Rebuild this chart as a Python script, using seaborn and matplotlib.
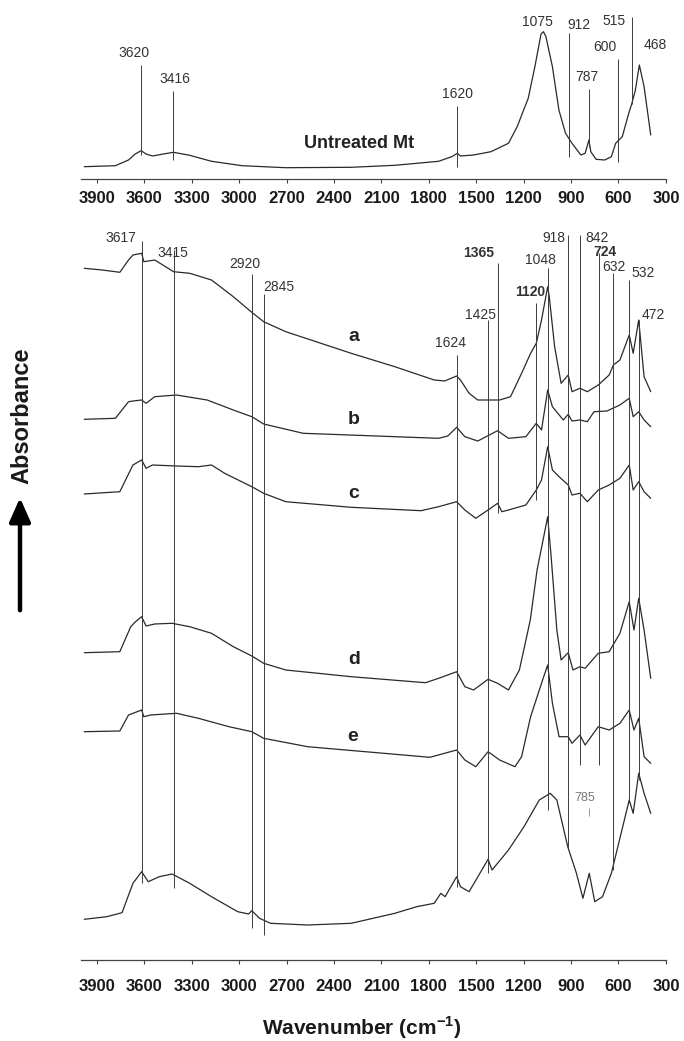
import matplotlib
matplotlib.use("Agg")
import matplotlib.pyplot as plt
import seaborn as sns

sns.set_theme(style="white")
plt.rcParams['font.family'] = ['Liberation Sans', 'DejaVu Sans']
plt.rcParams['mathtext.fontset'] = 'custom'
plt.rcParams['mathtext.rm'] = 'Liberation Sans'
plt.rcParams['mathtext.bf'] = 'Liberation Sans:bold'

# ---------------- data ----------------
tick_values = [3900, 3600, 3300, 3000, 2700, 2400, 2100, 1800, 1500, 1200, 900, 600, 300]
tick_labels = [str(v) for v in tick_values]

# Untreated montmorillonite
mt_wn = [3980, 3783, 3700, 3658, 3620, 3589, 3548, 3479, 3416, 3313, 3175, 2981, 2705, 2291,
         2015, 1738, 1655, 1620, 1600, 1517, 1407, 1296, 1241, 1200, 1171, 1129, 1090, 1075,
         1059, 1018, 977, 935, 894, 838, 811, 787, 775, 742, 687, 645, 618, 576, 535, 515,
         493, 468, 438, 396]
mt_abs = [12.3, 13.3, 19, 25, 28.3, 25, 23, 25, 26.7, 23.7, 17.7, 13.3, 11.3, 11.7,
          13.7, 17.7, 22.3, 25.7, 23, 24, 27.3, 35.7, 52.3, 69, 80.7, 112.3, 145, 147.3,
          142.3, 112.3, 69, 45.7, 35.7, 24, 25.7, 39, 27.3, 19.7, 19, 22.3, 35.7, 42.3, 65.7, 75.7,
          89, 114, 92.3, 44]

a_wn = [3980, 3866, 3755, 3700, 3672, 3617, 3603, 3575, 3534, 3415, 3313, 3175, 3037, 2920,
        2845, 2705, 2291, 2015, 1766, 1700, 1624, 1600, 1545, 1490, 1352, 1283, 1213, 1156,
        1120, 1087, 1048, 1038, 1004, 963, 918, 894, 844, 797, 728, 659, 632, 591, 532, 507,
        472, 438, 396]
a_abs = [691.7, 690, 687.7, 700, 705, 706.7, 698.3, 699, 700, 688.3, 686.7, 680, 663.3, 647.7,
         638.3, 628.3, 606.7, 593.3, 580, 579, 584, 580, 566.7, 560, 560, 563.3, 586.7, 606.7,
         616.7, 640, 673.3, 663.3, 613.3, 576.7, 585, 568.3, 571.7, 568.3, 575, 585, 595, 600, 625, 606.7,
         640, 583.3, 568.3]

b_wn = [3980, 3783, 3700, 3672, 3617, 3589, 3534, 3396, 3203, 3037, 2920, 2845, 2595, 1738,
        1680, 1624, 1572, 1490, 1365, 1296, 1186, 1120, 1087, 1048, 1018, 949, 918, 894, 844,
        797, 755, 673, 591, 532, 507, 472, 438, 396]
b_abs = [540.7, 541.7, 558.3, 559, 560, 556.7, 563.3, 565, 560, 550, 543.3, 536, 526.7, 521.7,
         524, 532.7, 523.3, 519, 529.3, 521.7, 523.3, 536.7, 530, 570, 553.3, 540, 545.7, 539, 540,
         538.3, 548.3, 549, 555, 561.7, 543.3, 548.3, 540, 533.3]

c_wn = [3980, 3755, 3672, 3617, 3589, 3548, 3396, 3258, 3175, 3092, 2920, 2845, 2705, 2291,
        1849, 1738, 1624, 1572, 1503, 1425, 1365, 1338, 1296, 1186, 1120, 1087, 1048, 1018,
        976, 918, 894, 844, 797, 728, 659, 591, 532, 507, 472, 438, 396]
c_abs = [466, 468.3, 495, 500, 491.7, 495, 494, 493.3, 495, 486.7, 473.3, 466.7, 458.3, 452.7,
         449.3, 453.3, 458.3, 450, 441.7, 450, 456.7, 448.3, 450, 455, 470, 480, 513.3, 490,
         483.3, 475, 465, 466.7, 458.3, 470, 475, 481.7, 495, 470, 478.3, 468.3, 461.7]

d_wn = [3980, 3755, 3686, 3658, 3617, 3589, 3534, 3424, 3313, 3175, 3037, 2920, 2845, 2705,
        2291, 1821, 1738, 1624, 1572, 1517, 1425, 1365, 1296, 1227, 1158, 1115, 1073, 1048,
        1026, 990, 963, 918, 888, 844, 811, 728, 659, 591, 532, 502, 472, 438, 396]
d_abs = [307.3, 308.3, 333.3, 338, 343.3, 334, 336, 336.7, 333.3, 326.7, 313.3, 304, 296.7, 290,
         283.3, 277.3, 281.7, 288.3, 273.3, 270, 280.7, 276.7, 270, 290, 340, 390, 423.3, 443.3,
         403.3, 330, 300, 307.3, 290, 293.3, 291.7, 306.7, 308.3, 326.7, 358.3, 330, 361.7, 330, 281.7]

e_wn = [3980, 3755, 3700, 3617, 3603, 3561, 3396, 3258, 3064, 2920, 2845, 2567, 1793, 1624,
        1572, 1503, 1425, 1352, 1255, 1213, 1156, 1087, 1048, 1018, 976, 918, 894, 844, 811,
        728, 659, 591, 532, 502, 472, 438, 396]
e_abs = [228.3, 229, 245, 250, 243.3, 245, 246.7, 241.7, 233.3, 228.3, 221.7, 213.3, 202.7, 210,
         200, 193.3, 208.3, 200, 193.3, 203.3, 243.3, 276.7, 295, 256.7, 223.3, 223.3, 216.7, 225, 215,
         233.3, 230, 236.7, 250, 230, 241.7, 203.3, 196.7]

f_wn = [3980, 3838, 3741, 3672, 3617, 3575, 3506, 3424, 3313, 3175, 3009, 2940, 2920, 2871,
        2802, 2567, 2291, 2015, 1877, 1766, 1724, 1697, 1624, 1600, 1545, 1425, 1400, 1296,
        1198, 1101, 1032, 990, 921, 866, 825, 785, 750, 701, 645, 604, 532, 507, 472, 438, 396]
f_abs = [40.7, 43.3, 47.3, 76.7, 88.3, 78.3, 83.3, 86, 76.7, 63.3, 48.3, 46, 49.3, 41.7,
         36.7, 35, 36.7, 46.7, 53.3, 56.7, 66.7, 63.3, 83.3, 73.3, 68.3, 100.7, 90, 110,
         133.3, 160, 166.7, 160, 113.3, 86.7, 61.7, 86.7, 58.3, 63.3, 86.7, 113.3, 160, 146.7, 186.7, 166.7, 146.7]

sample_names = ['a', 'b', 'c', 'd', 'e']

top_peaks = [3620, 3416, 1620, 1075, 912, 787, 600, 515, 468]
bottom_peaks = [3617, 3415, 2920, 2845, 1624, 1425, 1365, 1120, 1048, 918, 842, 724, 632, 532, 472]
bold_peaks = [1365, 1120, 724]

# ---------------- layout ----------------
W, H = 684, 1041
LINE = '#2a2a2a'
MARK = '#3c3c3c'

# label anchor (x, y) and marker segment (ymin, ymax) for each peak
top_label_pos = {3620: (3665, 125.7), 3416: (3408, 100), 1620: (1620, 85), 1075: (1115, 157.3),
                 912: (852, 154), 787: (802, 101.7), 600: (687, 132.3), 515: (626, 158.3),
                 468: (369, 134)}
top_seg = {3620: (24, 114), 3416: (19, 88.3), 1620: (12.3, 73), 912: (22, 146),
           787: (32.3, 89.7), 600: (17.3, 119.7), 515: (75, 162.3)}

bot_label_pos = {3617: (3749, 721.7), 3415: (3418, 706.7), 2920: (2967, 695.7), 2845: (2747, 673.3),
                 1624: (1663, 616.7), 1425: (1471, 645), 1365: (1483, 706.7), 1120: (1158, 668.3),
                 1048: (1095, 700), 918: (1009, 721.7), 842: (733, 721.7), 724: (687, 708.3),
                 632: (626, 693.3), 532: (446, 686.7), 472: (377, 645)}
bot_seg = {3617: (76.7, 719.3), 3415: (71.7, 710), 2920: (31.7, 686), 2845: (25, 666),
           1624: (73.3, 605), 1425: (86.7, 640), 1365: (447, 697.3), 1120: (460, 656.7),
           1048: (150, 692), 918: (111.7, 725), 842: (195, 725), 724: (195, 706.7),
           632: (90, 687), 532: (160, 680), 472: (180, 640)}
letter_pos = {'a': (2275, 623.3), 'b': (2275, 540.7), 'c': (2275, 466.7), 'd': (2275, 300), 'e': (2280, 223.3)}

fig = plt.figure(figsize=(W / 100, H / 100), dpi=100)
left = 81.1 / W
width = 584.8 / W
ax_top = fig.add_axes([left, (H - 179) / H, width, 174 / H])
ax_bot = fig.add_axes([left, (H - 960) / H, width, 735 / H])


def style_axis(ax, pad):
    ax.set_xlim(4000, 300)
    ax.set_xticks(tick_values)
    ax.set_xticklabels(tick_labels, fontsize=12, fontweight='bold', color='#1a1a1a')
    ax.set_yticks([])
    ax.set_xlabel('')
    ax.set_ylabel('')
    for side in ('left', 'right', 'top'):
        ax.spines[side].set_visible(False)
    ax.spines['bottom'].set_color('#444444')
    ax.spines['bottom'].set_linewidth(0.9)
    ax.tick_params(axis='x', direction='out', length=3, width=0.8, color='#444444', pad=pad, bottom=True)
    ax.set_facecolor('white')


# top panel: untreated Mt
sns.lineplot(x=mt_wn, y=mt_abs, ax=ax_top, color=LINE, lw=0.9, sort=False, estimator=None)
ax_top.set_ylim(0, 174)
for p in top_peaks:
    tx, ty = top_label_pos[p]
    ax_top.text(tx, ty, str(p), ha='center', va='center', fontsize=10, color='#333333')
    if p in top_seg:
        y0, y1 = top_seg[p]
        ax_top.vlines(p, y0, y1, color=MARK, lw=0.7)
ax_top.text(2240, 35, 'Untreated Mt', ha='center', va='center', fontsize=13,
            fontweight='bold', color='#222222')
style_axis(ax_top, pad=5.8)

# bottom panel: modified samples
spectra = [(a_wn, a_abs), (b_wn, b_abs), (c_wn, c_abs), (d_wn, d_abs), (e_wn, e_abs), (f_wn, f_abs)]
for wn, ab in spectra:
    sns.lineplot(x=wn, y=ab, ax=ax_bot, color=LINE, lw=0.9, sort=False, estimator=None)
ax_bot.set_ylim(0, 735)
for p in bottom_peaks:
    y0, y1 = bot_seg[p]
    ax_bot.vlines(p, y0, y1, color=MARK, lw=0.7)
    tx, ty = bot_label_pos[p]
    ax_bot.text(tx, ty, str(p), ha='center', va='center', fontsize=10,
                fontweight='bold' if p in bold_peaks else 'normal', color='#333333')
ax_bot.text(811, 161.7, '785', ha='center', va='center', fontsize=9, color='#777777')
ax_bot.vlines(785, 144, 152, color='#888888', lw=0.6)
for name in sample_names:
    lx, ly = letter_pos[name]
    ax_bot.text(lx, ly, name, ha='center', va='center', fontsize=14, fontweight='bold', color='#222222')
style_axis(ax_bot, pad=10.8)

# axis titles
fig.text(362 / W, 1 - 1035 / H, r'Wavenumber (cm$^{\mathbf{-1}}$)', ha='center', va='baseline',
         fontsize=15, fontweight='bold', color='#1a1a1a')
fig.text(22 / W, 1 - 416 / H, 'Absorbance', rotation=90, ha='center', va='center',
         fontsize=17, fontweight='bold', color='#1a1a1a')
fig.add_artist(matplotlib.patches.FancyArrowPatch(
    (20 / W, 1 - 613 / H), (20 / W, 1 - 495 / H), transform=fig.transFigure,
    arrowstyle='-|>,head_width=4,head_length=9', lw=3.2, color='black', mutation_scale=1.6))

fig.savefig('out.png', dpi=100, facecolor='white')
